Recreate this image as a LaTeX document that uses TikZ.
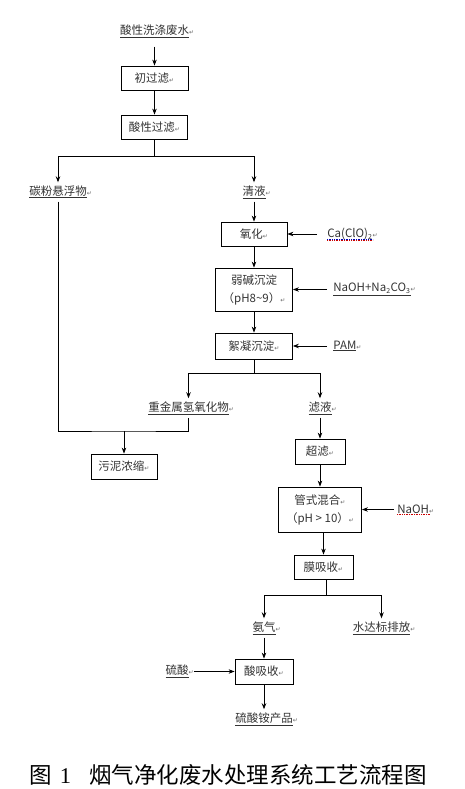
\documentclass[tikz,border=0pt]{standalone}
\usepackage{fontspec}
\setmainfont{Noto Sans CJK SC}
\newfontfamily\markfont{DejaVu Sans}
\newfontfamily\numfont{Liberation Serif}
\usetikzlibrary{arrows.meta}

\newcommand{\pmark}{{\markfont\fontsize{6}{6}\selectfont\textcolor{black!60}{↵}}}
\newcommand{\ulab}[1]{\underline{#1}\rlap{\pmark}}

\begin{document}
\begin{tikzpicture}[x=1pt,y=-1pt,line width=0.8pt,
    >={Stealth[length=6pt,width=4.5pt]},
    box/.style={draw,minimum height=24pt,inner sep=2pt,align=center,text=black!80,font=\fontsize{11.5}{18}\selectfont},
    lab/.style={inner sep=3pt,text=black!80,font=\fontsize{11.5}{14}\selectfont},
    spell/.style={densely dotted,line width=0.7pt}]

\useasboundingbox (0,0) rectangle (465,789);

% pre-treatment

\node (src) [lab] at (154.5,31) {\ulab{酸性洗涤废水}};
\node (chu) [box,minimum width=67pt] at (154.5,78) {初过滤\pmark};
\node (sxgl) [box,minimum width=66pt] at (154.5,127) {酸性过滤\pmark};

\draw [->,shorten <=6pt] (src) -- (chu);
\draw [->] (chu) -- (sxgl);

\coordinate (split1) at (154.5,156);
\node (tanfen) [lab] at (58,192) {\ulab{碳粉悬浮物}};
\node (qingye) [lab] at (254,192) {\ulab{清液}};

\draw (sxgl) -- (split1);
\draw [->] (split1) -| (tanfen);
\draw [->] (split1) -| (qingye);

% oxidation and precipitation

\node (yanghua) [box,minimum width=66pt] at (254,234) {氧化\pmark};
\node (ruojian) [box,minimum width=77pt,minimum height=43pt] at (254,289.5) {弱碱沉淀\\（pH8\textasciitilde9）\pmark};
\node (xuning) [box,minimum width=77pt,minimum height=26pt] at (254,346) {絮凝沉淀\pmark};

\node (caclo) [lab,anchor=west] at (324,234) {Ca(ClO)\textsubscript{\scriptsize 2}\rlap{\pmark}};
\node (naoh1) [lab,anchor=west] at (330,289.5) {\ulab{NaOH+Na\textsubscript{\scriptsize 2}CO\textsubscript{\scriptsize 3}}};
\node (pam) [lab,anchor=west] at (330,346) {\ulab{PAM}};

\draw [spell,blue!70!black] ([xshift=3pt,yshift=4pt]caclo.south west) -- ([xshift=-3pt,yshift=4pt]caclo.south east);
\draw [spell,red!80!black] ([xshift=3pt,yshift=2.5pt]caclo.south west) -- ([xshift=-3pt,yshift=2.5pt]caclo.south east);

\draw [->] (qingye) -- (yanghua);
\draw [->] (yanghua) -- (ruojian);
\draw [->] (ruojian) -- (xuning);
\draw [->,shorten <=7pt] (caclo) -- (yanghua);
\draw [->,shorten <=3pt] (naoh1) -- (ruojian);
\draw [->,shorten <=3pt] (pam) -- (xuning);

\coordinate (split2) at (254,373);
\node (zhongjin) [lab] at (188.5,408) {\ulab{重金属氢氧化物}};
\node (lvye) [lab] at (320,408) {\ulab{滤液}};

\draw (xuning) -- (split2);
\draw [->] (split2) -| (zhongjin);
\draw [->] (split2) -| (lvye);

% sludge

\coordinate (sludge) at (124,431);
\node (wuni) [box,minimum width=66pt,minimum height=25pt] at (124,466.5) {污泥浓缩\pmark};

\draw (tanfen) |- (sludge) -| (zhongjin);
\draw [->] (sludge) -- (wuni);

% filtrate

\node (chaolv) [box,minimum width=50pt,minimum height=25pt] at (320,451.5) {超滤\pmark};
\node (guanshi) [box,minimum width=83pt,minimum height=45pt] at (320,509.5) {管式混合\pmark\\（pH > 10）\pmark};
\node (moxi) [box,minimum width=59pt] at (323.5,567) {膜吸收\pmark};
\node (naoh2) [lab,anchor=west] at (394,509.5) {NaOH\rlap{\pmark}};

\draw [spell,red!80!black] ([xshift=3pt,yshift=3pt]naoh2.south west) -- ([xshift=-3pt,yshift=3pt]naoh2.south east);

\draw [->] (lvye) -- (chaolv);
\draw [->] (chaolv) -- (guanshi);
\draw [->] (guanshi.south -| moxi) -- (moxi);
\draw [->] (naoh2) -- (guanshi);

\coordinate (split3) at (326,595);
\node (anqi) [lab] at (264,628) {\ulab{氨气}};
\node (shui) [lab] at (381.5,628) {\ulab{水达标排放}};

\draw (moxi.south -| split3) -- (split3);
\draw [->] (split3) -| (anqi);
\draw [->] (split3) -| (shui);

% acid absorption

\node (suanxi) [box,minimum width=58pt,minimum height=25pt] at (264,671.5) {酸吸收\pmark};
\node (liusuan) [lab] at (177,671.5) {\ulab{硫酸}};
\node (product) [lab] at (264,719) {\ulab{硫酸铵产品}};

\draw [->] (anqi) -- (suanxi);
\draw [->,shorten <=2pt] (liusuan) -- (suanxi);
\draw [->] (suanxi) -- (product);

\node (caption) at (228,775) {\fontsize{22.5}{26}\selectfont 图\hspace{0.35em}{\numfont 1}\hspace{0.8em}烟气净化废水处理系统工艺流程图};

\end{tikzpicture}
\end{document}
